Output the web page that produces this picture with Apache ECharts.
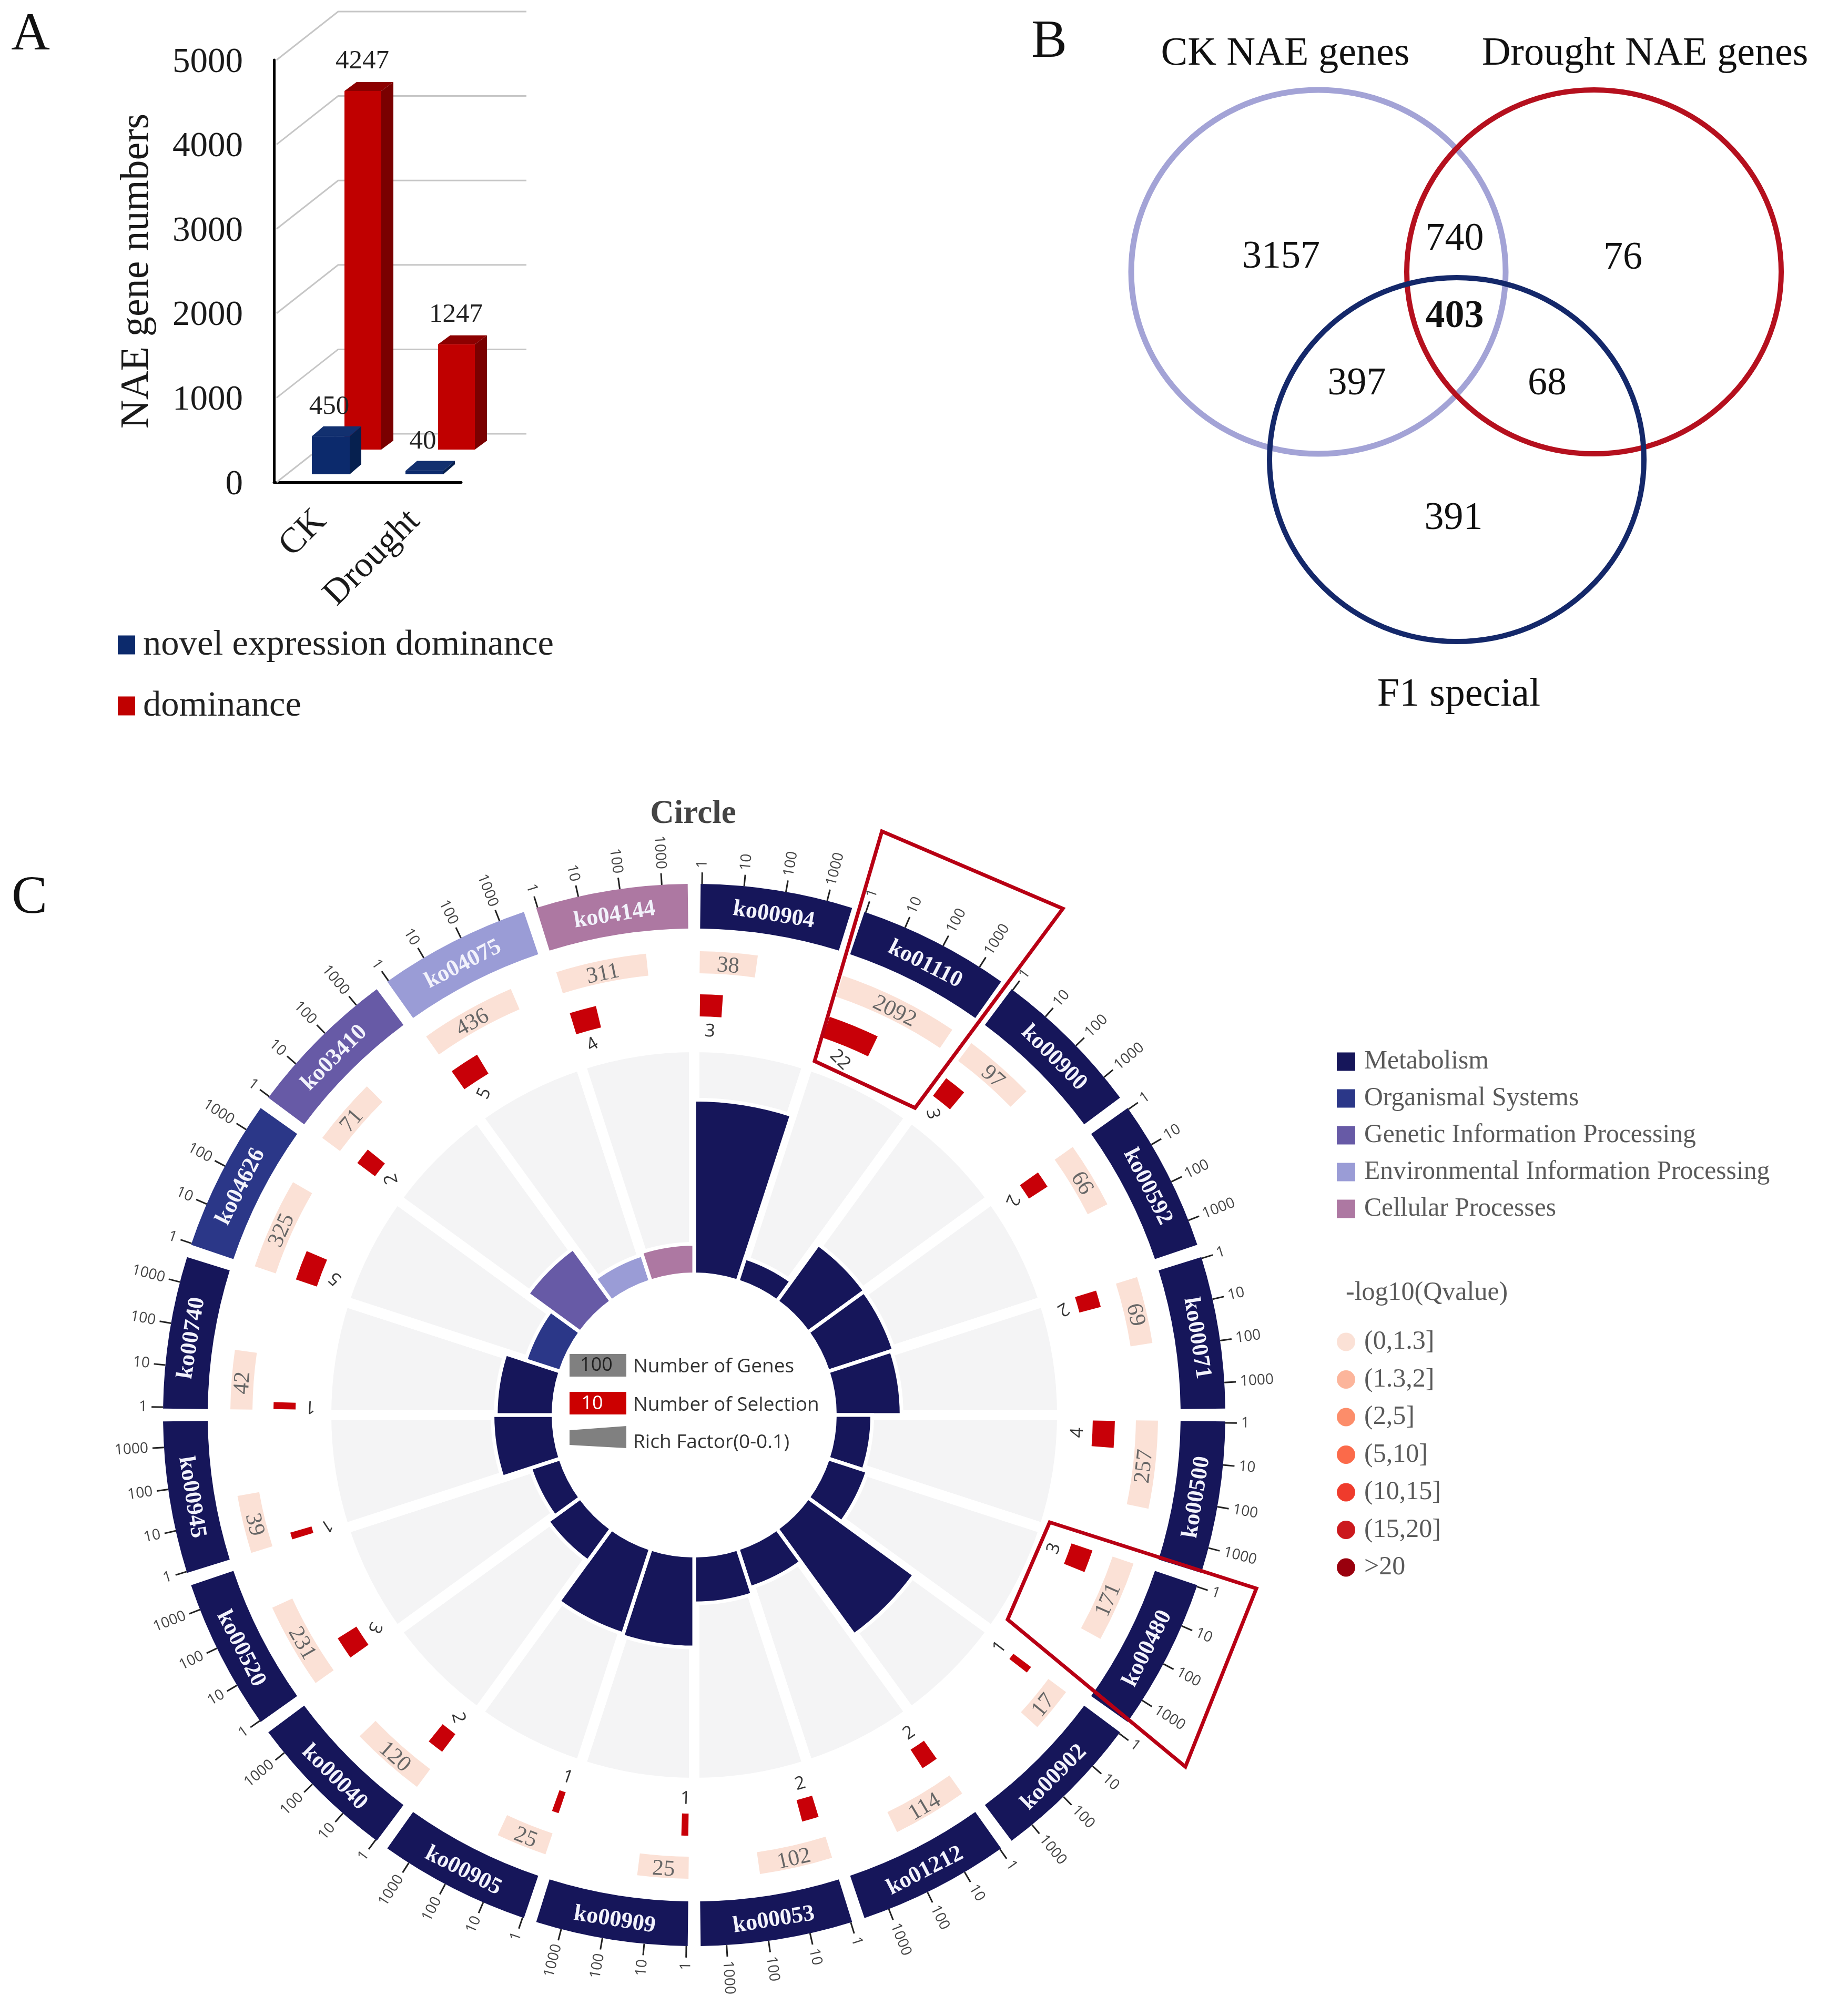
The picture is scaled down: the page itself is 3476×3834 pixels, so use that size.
<!DOCTYPE html>
<html>
<head>
<meta charset="utf-8">
<style>html,body{margin:0;padding:0;background:#fff}#c{width:3476px;height:3834px}</style>
<script src="https://cdn.jsdelivr.net/npm/echarts@6/dist/echarts.min.js"></script>
</head>
<body>
<div id="c"></div>
<script>
// ---------- Panel A data ----------
const barCategories = ['CK', 'Drought'];
const novelDominance = [450, 40];
const dominance = [4247, 1247];
const wallTicks = [0, 1000, 2000, 3000, 4000, 5000];
// ---------- Panel B data ----------
const vennSets = ['CK NAE genes', 'Drought NAE genes', 'F1 special'];
const vennCounts = ['3157', '740', '76', '403', '397', '68', '391'];
// ---------- Panel C data ----------
const pathways = ['ko00904','ko01110','ko00900','ko00592','ko00071','ko00500','ko00480','ko00902','ko01212','ko00053','ko00909','ko00905','ko00040','ko00520','ko00945','ko00740','ko04626','ko03410','ko04075','ko04144'];
const geneCounts = [38,2092,97,66,69,257,171,17,114,102,25,25,120,231,39,42,325,71,436,311];
const selectionCounts = [3,22,3,2,2,4,3,1,2,2,1,1,2,3,1,1,5,2,5,4];
const richFactor = [0.0776,0.0095,0.0303,0.0298,0.0286,0.0153,0.0172,0.058,0.017,0.020,0.040,0.039,0.0166,0.0127,0.026,0.0245,0.015,0.028,0.011,0.0122];
const categoryOf = [0,0,0,0,0,0,0,0,0,0,0,0,0,0,0,0,1,2,3,4];
const categories = ['Metabolism','Organismal Systems','Genetic Information Processing','Environmental Information Processing','Cellular Processes'];
const categoryColors = ['#16165a','#2b3788','#675aa6','#9a9cd6','#ad78a2'];
const qLevels = ['(0,1.3]','(1.3,2]','(2,5]','(5,10]','(10,15]','(15,20]','>20'];
const qColors = ['#fbe1d6','#fcb59b','#fc8d6a','#fb6a4a','#ef3b2c','#cb181d','#99000d'];
const logTicks = [1, 10, 100, 1000];

// ---------- layout constants ----------
const SERIF = '"Liberation Serif"';
const SANS = '"Open Sans"';
const CX = 1320, CY = 2691;
const SECTOR = 18, DECADE = 4.55, PAD = 0.7, PAD_END = 17.3;
const RING = [925, 1010], GENE = [840, 882], SEL = [758, 800], SEL_LABEL = 730;

function txt(x, y, text, font, fill, align, deg) {
  const dy = font.indexOf('Serif') >= 0 ? 5 : 0;
  return { type: 'text', x: x, y: y + dy, rotation: -(deg || 0) * Math.PI / 180, silent: true,
    style: { text: String(text), x: 0, y: 0, font: font, fill: fill, align: align || 'center', textAlign: align || 'center', verticalAlign: 'middle', textVerticalAlign: 'middle' } };
}
function sectorEl(api, cs, rA, rB, a0, a1, extra, dr0, dr1) {
  const p0 = api.coord([rA, a0]), p1 = api.coord([rB, a1]);
  const r0 = Math.hypot(p0[0]-cs.cx, p0[1]-cs.cy) + (dr0||0), r1 = Math.hypot(p1[0]-cs.cx, p1[1]-cs.cy) + (dr1||0);
  return { type: 'sector', silent: true,
    shape: { cx: cs.cx, cy: cs.cy, r0: r0, r: r1, startAngle: Math.atan2(p0[1]-cs.cy, p0[0]-cs.cx), endAngle: Math.atan2(p1[1]-cs.cy, p1[0]-cs.cx), clockwise: true },
    style: extra };
}
function tangentRot(t) { return t < 90 ? t : (t < 270 ? t - 180 : t - 360); }
function selRot(t) { return (t > 90 && t < 200) ? t - 180 : (2 * t) % 360; }

// ---------- Panel A 3D bars ----------
function bar3d(o) {
  return function (params, api) {
    const i = api.value(0), v = api.value(1);
    const base = api.coord([i, 0]), top = api.coord([i, v]);
    const cx = base[0] + o.dx, yb = base[1] + o.dy, yt = top[1] + o.dy, w = o.w, l = cx - w/2, r = cx + w/2;
    const ch = [
      { type:'polygon', silent:true, shape:{points:[[l,yt],[r,yt],[r+o.dpx,yt+o.dpy],[l+o.dpx,yt+o.dpy]]}, style:{fill:o.top} },
      { type:'polygon', silent:true, shape:{points:[[r,yt],[r+o.dpx,yt+o.dpy],[r+o.dpx,yb+o.dpy],[r,yb]]}, style:{fill:o.side} },
      { type:'rect', silent:true, shape:{x:l,y:yt,width:w,height:yb-yt}, style:{fill:api.visual('color')} },
      txt(cx + o.lx, yt - 61, v, '51px '+SERIF, '#222')
    ];
    return { type:'group', children: ch };
  };
}
function wallItem(params, api) {
  const v = api.value(0), y = api.coord([0, v])[1], x0 = params.coordSys.x + 5;
  return { type:'group', children:[
    { type:'polyline', silent:true, shape:{points:[[x0,y],[x0+117,y-92],[x0+475,y-92]]}, style:{stroke:'#c6c6c6', lineWidth:3, fill:null} },
    txt(params.coordSys.x - 59, y, v, '67px '+SERIF, '#1a1a1a', 'right')
  ]};
}

// ---------- Panel B ----------
const vennPos = [[2436,485],[2766,451],[3086,487],[2766,598],[2580,726],[2942,726],[2764,982]];
const vennTitlePos = [[2444,98],[3128,98],[2774,1317]];
const vennShapes = [[2507,517,'#a3a3d6'],[3031,517,'#b5101e'],[2770,874,'#14286a']];
function vennItem(params, api) {
  const i = params.dataIndex;
  if (i < 3) {
    const s = vennShapes[i];
    return { type:'group', children:[
      { type:'ellipse', silent:true, shape:{cx:s[0],cy:s[1],rx:356,ry:346}, style:{fill:null, stroke:s[2], lineWidth:i===0?11:10} },
      txt(vennTitlePos[i][0], vennTitlePos[i][1], vennSets[i], '76px '+SERIF, '#111')
    ]};
  }
  const k = i - 3;
  return txt(vennPos[k][0], vennPos[k][1], vennCounts[k], (k===3?'bold ':'')+'74px '+SERIF, '#111');
}

// ---------- Panel C renderers ----------
function bgItem(params, api) {
  const i = api.value(0), s = i * SECTOR;
  return sectorEl(api, params.coordSys, 0, 0.1, s, s + SECTOR, { fill:'#f4f4f5', stroke:'#fff', lineWidth:20 }, -10, 10);
}
function richItem(params, api) {
  const i = api.value(0), s = i * SECTOR;
  return sectorEl(api, params.coordSys, 0, api.value(1), s, s + SECTOR, { fill:api.visual('color'), stroke:'#fff', lineWidth:7 }, -3.5, 3.5);
}
function ringItem(params, api) {
  const i = api.value(0), s = i * SECTOR, cs = params.coordSys, ch = [];
  ch.push(sectorEl(api, cs, RING[0], RING[1], s + PAD, s + PAD_END, { fill: categoryColors[categoryOf[i]] }));
  const m = s + (PAD + PAD_END) / 2, pm = api.coord([(RING[0]+RING[1])/2, m]);
  ch.push(txt(pm[0], pm[1], pathways[i], 'bold 44px '+SERIF, '#f2f2fb', 'center', tangentRot(m)));
  logTicks.forEach(function (t) {
    const a = s + 0.85 + Math.log10(t) * DECADE;
    const p0 = api.coord([RING[1], a]), p1 = api.coord([RING[1] + 22, a]), p2 = api.coord([RING[1] + 30, a]);
    ch.push({ type:'line', silent:true, shape:{x1:p0[0],y1:p0[1],x2:p1[0],y2:p1[1]}, style:{stroke:'#222', lineWidth:3} });
    ch.push(a < 180 ? txt(p2[0], p2[1], t, '28px '+SANS, '#444', 'left', a - 90)
                    : txt(p2[0], p2[1], t, '28px '+SANS, '#444', 'right', a - 270));
  });
  return { type:'group', children: ch };
}
function geneItem(params, api) {
  const i = api.value(0), v = api.value(1), s = i * SECTOR + PAD, e = s + Math.log10(v) * DECADE, m = (s + e) / 2;
  const p = api.coord([(GENE[0]+GENE[1])/2, m]);
  return { type:'group', children:[
    sectorEl(api, params.coordSys, GENE[0], GENE[1], s, e, { fill: api.visual('color') }),
    txt(p[0], p[1], v, '43px '+SERIF, '#666', 'center', tangentRot(m))
  ]};
}
function selItem(params, api) {
  const i = api.value(0), v = api.value(1), s = i * SECTOR + 0.8, e = s + 0.95 + Math.log10(v) * DECADE, m = (s + e) / 2;
  const p = api.coord([SEL_LABEL, m]);
  return { type:'group', children:[
    sectorEl(api, params.coordSys, SEL[0], SEL[1], s, e, { fill:'#c80008' }),
    txt(p[0], p[1], v, '34px '+SANS, '#333', 'center', selRot(m))
  ]};
}

// ---------- series ----------
const series = [];
const noAnim = { animation:false, clip:false, silent:true };
series.push(Object.assign({ type:'custom', name:'wall', coordinateSystem:'cartesian2d', renderItem:wallItem, z:1, encode:{x:1,y:0},
  data: wallTicks.map(function (v) { return [v, 0]; }) }, noAnim));
series.push(Object.assign({ type:'custom', name:'dominance', coordinateSystem:'cartesian2d', itemStyle:{color:'#c00000'}, z:2, encode:{x:0,y:1},
  renderItem: bar3d({dx:80,dy:-62,w:70,dpx:23,dpy:-17,top:'#8c0000',side:'#7a0000',lx:-1}),
  data: dominance.map(function (v,i) { return [i,v]; }) }, noAnim));
series.push(Object.assign({ type:'custom', name:'novel expression dominance', coordinateSystem:'cartesian2d', itemStyle:{color:'#0c2a6c'}, z:3, encode:{x:0,y:1},
  renderItem: bar3d({dx:19,dy:-15,w:72,dpx:22,dpy:-19,top:'#12306f',side:'#06204f',lx:-3}),
  data: novelDominance.map(function (v,i) { return [i,v]; }) }, noAnim));
series.push(Object.assign({ type:'custom', name:'venn', coordinateSystem:'none', renderItem:vennItem, z:2,
  data: vennSets.concat(vennCounts).map(function (s,i) { return [i]; }) }, noAnim));
series.push(Object.assign({ type:'custom', name:'rich-bg', coordinateSystem:'polar', polarIndex:0, renderItem:bgItem, z:1, encode:{angle:0,radius:1},
  data: pathways.map(function (p,i) { return [i, 0.1]; }) }, noAnim));
categories.forEach(function (c, k) {
  const d = [];
  richFactor.forEach(function (v,i) { if (categoryOf[i] === k) d.push([i, v]); });
  series.push(Object.assign({ type:'custom', name:c, coordinateSystem:'polar', polarIndex:0, renderItem:richItem, z:2, itemStyle:{color:categoryColors[k]}, encode:{angle:0,radius:1}, data:d }, noAnim));
});
series.push(Object.assign({ type:'custom', name:'ring', coordinateSystem:'polar', polarIndex:1, renderItem:ringItem, z:3, encode:{angle:0,radius:0},
  data: pathways.map(function (p,i) { return [i]; }) }, noAnim));
qLevels.forEach(function (q, k) {
  series.push(Object.assign({ type:'custom', name:q, coordinateSystem:'polar', polarIndex:1, renderItem:geneItem, z:3, itemStyle:{color:qColors[k]}, encode:{angle:0,radius:1},
    data: k === 0 ? geneCounts.map(function (v,i) { return [i,v]; }) : [] }, noAnim));
});
series.push(Object.assign({ type:'custom', name:'selection', coordinateSystem:'polar', polarIndex:1, renderItem:selItem, z:4, encode:{angle:0,radius:1},
  data: selectionCounts.map(function (v,i) { return [i,v]; }) }, noAnim));

const hiddenRadius = function (idx, max) { return { polarIndex:idx, type:'value', min:0, max:max, show:false, axisLine:{show:false}, axisTick:{show:false}, axisLabel:{show:false}, splitLine:{show:false} }; };
const hiddenAngle = function (idx) { return { polarIndex:idx, type:'value', min:0, max:360, startAngle:90, clockwise:true, show:false, axisLine:{show:false}, axisTick:{show:false}, axisLabel:{show:false}, splitLine:{show:false} }; };

const boxStyle = { fill:null, stroke:'#b80014', lineWidth:7, lineJoin:'miter' };
function gText(x, y, t, font, fill, align) {
  return { type:'text', x:x, y:y, silent:true, z:20, style:{ text:t, font:font, fill:fill, align:align||'center', textAlign:align||'center', verticalAlign:'middle', textVerticalAlign:'middle' } };
}

const option = {
  backgroundColor:'#ffffff',
  animation:false,
  grid:{ left:521, top:114, width:356, height:803, containLabel:false },
  xAxis:{ type:'category', data:barCategories, boundaryGap:true,
    axisLine:{ lineStyle:{ color:'#000', width:5 } }, axisTick:{ show:false },
    axisLabel:{ rotate:45, margin:64, fontFamily:'Liberation Serif', fontSize:68, color:'#1a1a1a', interval:0 } },
  yAxis:{ type:'value', min:0, max:5000, interval:1000, name:'NAE gene numbers', nameLocation:'middle', nameGap:222,
    nameTextStyle:{ fontFamily:'Liberation Serif', fontSize:76, color:'#1a1a1a' },
    axisLine:{ show:true, lineStyle:{ color:'#000', width:5 } }, axisTick:{ show:false }, splitLine:{ show:false },
    axisLabel:{ show:false } },
  polar:[ { center:[CX,CY], radius:[271,690] }, { center:[CX,CY], radius:[0,1100] } ],
  radiusAxis:[ hiddenRadius(0,0.1), hiddenRadius(1,1100) ],
  angleAxis:[ hiddenAngle(0), hiddenAngle(1) ],
  legend:[
    { show:true, left:219, top:1187, orient:'vertical', itemWidth:33, itemHeight:36, itemGap:47, icon:'rect', selectedMode:false,
      data:['novel expression dominance','dominance'], textStyle:{ fontFamily:'Liberation Serif', fontSize:68.6, color:'#222', padding:[0,0,0,10] } },
    { show:true, left:2537, top:1989, orient:'vertical', itemWidth:35, itemHeight:35, itemGap:20, icon:'rect', selectedMode:false,
      data:categories, textStyle:{ fontFamily:'Liberation Serif', fontSize:49.6, color:'#5a5a5a', padding:[0,0,0,12] } },
    { show:true, left:2537, top:2522, orient:'vertical', itemWidth:35, itemHeight:35, itemGap:21.5, icon:'circle', selectedMode:false,
      data:qLevels, textStyle:{ fontFamily:'Liberation Serif', fontSize:50, color:'#5a5a5a', padding:[0,0,0,12] } }
  ],
  graphic:[
    gText(58, 67, 'A', '102px '+SERIF, '#111'),
    gText(1995, 81, 'B', '102px '+SERIF, '#111'),
    gText(56, 1709, 'C', '102px '+SERIF, '#111'),
    gText(1318, 1549, 'Circle', 'bold 63px '+SERIF, '#444'),
    gText(2559, 2459, '-log10(Qvalue)', '50px '+SERIF, '#5a5a5a', 'left'),
    { type:'polygon', z:15, silent:true, shape:{ points:[[1677,1581],[2021,1728],[1740,2107],[1549,2018]] }, style:boxStyle },
    { type:'polygon', z:15, silent:true, shape:{ points:[[1996,2895],[2389,3021],[2254,3360],[1916,3080]] }, style:boxStyle },
    { type:'rect', z:15, silent:true, shape:{ x:1083, y:2575, width:108, height:43 }, style:{ fill:'#808080' } },
    { type:'rect', z:15, silent:true, shape:{ x:1083, y:2647, width:108, height:43 }, style:{ fill:'#cc0000' } },
    { type:'polygon', z:15, silent:true, shape:{ points:[[1083,2720],[1191,2712],[1191,2754],[1083,2748]] }, style:{ fill:'#808080' } },
    gText(1134, 2597, '100', '36px '+SANS, '#222'),
    gText(1126, 2670, '10', '36px '+SANS, '#fff'),
    gText(1204, 2599, 'Number of Genes', '37px '+SANS, '#333', 'left'),
    gText(1204, 2672, 'Number of Selection', '37px '+SANS, '#333', 'left'),
    gText(1204, 2743, 'Rich Factor(0-0.1)', '37px '+SANS, '#333', 'left')
  ],
  series: series
};
const chart = echarts.init(document.getElementById('c'), null, { renderer:'canvas', width:3476, height:3834 });
chart.setOption(option);
</script>
</body>
</html>
